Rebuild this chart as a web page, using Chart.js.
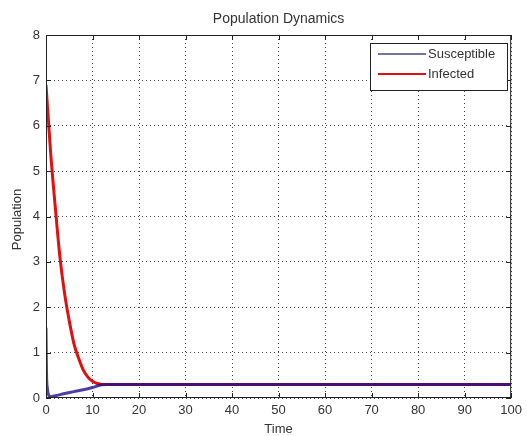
<!DOCTYPE html>
<html>
<head>
<meta charset="utf-8">
<style>
  html, body { margin: 0; padding: 0; background: #fff; }
  #wrap { width: 527px; height: 436px; }
</style>
<script src="https://cdn.jsdelivr.net/npm/chart.js@4/dist/chart.umd.min.js"></script>
</head>
<body>
<div id="wrap"><canvas id="myChart" width="527" height="436"></canvas></div>
<script>
var chart_title = 'Population Dynamics';
var x_label = 'Time';
var y_label = 'Population';
var series_names = ['Susceptible', 'Infected'];

var s_time = [0, 0.1, 0.3, 0.6, 1, 2, 4, 6, 8, 10, 12, 13, 20, 40, 60, 80, 100];
var s_values = [1.55, 0.6, 0.2, 0.06, 0.03, 0.05, 0.1, 0.14, 0.18, 0.23, 0.29, 0.3, 0.3, 0.3, 0.3, 0.3, 0.3];

var i_time = [0, 1, 2, 3, 4, 5, 6, 7, 8, 9, 10, 11, 12, 13, 20, 40, 60, 80, 100];
var i_values = [6.9, 5.4, 4.2, 3.1, 2.3, 1.7, 1.2, 0.88, 0.62, 0.46, 0.37, 0.32, 0.3, 0.3, 0.3, 0.3, 0.3, 0.3, 0.3];

var x_ticks = [0, 10, 20, 30, 40, 50, 60, 70, 80, 90, 100];
var y_ticks = [0, 1, 2, 3, 4, 5, 6, 7, 8];

function to_points(xs, ys) {
    var pts = [];
    for (var k = 0; k < xs.length; k++) {
        pts.push({x: xs[k], y: ys[k]});
    }
    return pts;
}

var tick_font = {family: 'Liberation Sans', size: 13};

// box, inner ticks, title, axis labels and the legend, matlab style
var matlab_bits = {
    id: 'matlab_bits',
    afterDraw: function(chart) {
        var ctx = chart.ctx;
        var a = chart.chartArea;
        var xs = chart.scales.x, ys = chart.scales.y;
        ctx.save();
        ctx.strokeStyle = '#222';
        ctx.lineWidth = 1;
        ctx.setLineDash([]);
        ctx.strokeRect(a.left + 0.5, a.top + 0.5, a.right - a.left - 1, a.bottom - a.top - 1);
        ctx.beginPath();
        x_ticks.forEach(function(v) {
            var px = Math.round(xs.getPixelForValue(v)) + 0.5;
            ctx.moveTo(px, a.bottom); ctx.lineTo(px, a.bottom - 5);
            ctx.moveTo(px, a.top); ctx.lineTo(px, a.top + 5);
        });
        y_ticks.forEach(function(v) {
            var py = Math.round(ys.getPixelForValue(v)) + 0.5;
            ctx.moveTo(a.left, py); ctx.lineTo(a.left + 5, py);
            ctx.moveTo(a.right, py); ctx.lineTo(a.right - 5, py);
        });
        ctx.stroke();

        ctx.fillStyle = '#333';
        ctx.textAlign = 'center';
        ctx.textBaseline = 'middle';
        ctx.font = '14px "Liberation Sans"';
        ctx.fillText(chart_title, (a.left + a.right) / 2, 19);
        ctx.font = '13px "Liberation Sans"';
        ctx.fillText(x_label, (a.left + a.right) / 2, 429);
        ctx.translate(17, (a.top + a.bottom) / 2 + 3);
        ctx.rotate(-Math.PI / 2);
        ctx.fillText(y_label, 0, 0);
        ctx.restore();

        // legend
        ctx.save();
        var lx = 370, ly = 43, lw = 137, lh = 47;
        ctx.fillStyle = '#fff';
        ctx.fillRect(lx, ly, lw, lh);
        ctx.strokeStyle = '#222';
        ctx.lineWidth = 1;
        ctx.strokeRect(lx + 0.5, ly + 0.5, lw, lh);
        ctx.font = '13px "Liberation Sans"';
        ctx.textAlign = 'left';
        ctx.textBaseline = 'middle';
        chart.data.datasets.forEach(function(ds, k) {
            var yy = ly + 11 + k * 20;
            ctx.strokeStyle = ds.legendColor;
            ctx.lineWidth = 2;
            ctx.beginPath();
            ctx.moveTo(lx + 8, yy); ctx.lineTo(lx + 56, yy);
            ctx.stroke();
            ctx.fillStyle = '#333';
            ctx.fillText(ds.label, lx + 58, yy);
        });
        ctx.restore();
    }
};

var ctx = document.getElementById('myChart').getContext('2d');
var myChart = new Chart(ctx, {
    type: 'line',
    data: {
        datasets: [{
            label: series_names[0],
            data: to_points(s_time, s_values),
            borderColor: 'rgba(35, 15, 140, 0.8)',
            legendColor: '#7474a4',
            borderWidth: 3,
            pointRadius: 0,
            cubicInterpolationMode: 'monotone',
            order: 1
        }, {
            label: series_names[1],
            data: to_points(i_time, i_values),
            borderColor: '#e01010',
            legendColor: '#e01010',
            borderWidth: 3,
            pointRadius: 0,
            cubicInterpolationMode: 'monotone',
            order: 2
        }]
    },
    options: {
        responsive: false,
        animation: false,
        layout: {padding: {left: 0, top: 35, right: 13, bottom: 0}},
        plugins: {
            legend: {display: false},
            tooltip: {enabled: false}
        },
        scales: {
            x: {
                type: 'linear',
                min: 0, max: 100,
                afterFit: function(s) { s.height = 38; },
                ticks: {stepSize: 10, font: tick_font, color: '#333', padding: 5, maxRotation: 0},
                grid: {color: '#444', lineWidth: 1, drawTicks: false},
                border: {display: false, dash: [1, 3]}
            },
            y: {
                min: 0, max: 8,
                afterFit: function(s) { s.width = 46; },
                ticks: {stepSize: 1, font: tick_font, color: '#333', padding: 6},
                grid: {color: '#444', lineWidth: 1, drawTicks: false},
                border: {display: false, dash: [1, 3]}
            }
        }
    },
    plugins: [matlab_bits]
});
</script>
</body>
</html>
